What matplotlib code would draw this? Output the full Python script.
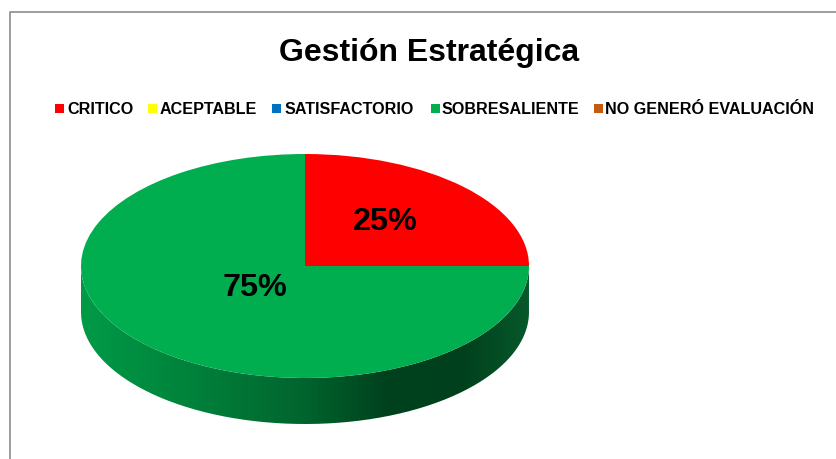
import numpy as np
import matplotlib
matplotlib.use('Agg')
import matplotlib.pyplot as plt
from matplotlib.colors import LinearSegmentedColormap
from matplotlib.lines import Line2D
from matplotlib.patches import PathPatch, Rectangle
from matplotlib.path import Path

plt.rcParams['font.family'] = ['Liberation Sans', 'DejaVu Sans']

categories = ['CRITICO', 'ACEPTABLE', 'SATISFACTORIO', 'SOBRESALIENTE', 'NO GENERÓ EVALUACIÓN']
values = [25, 0, 0, 75, 0]
colors = ['#FF0000', '#FFFF00', '#0070C0', '#00AE4F', '#C55A11']

W, H = 837, 459
fig = plt.figure(figsize=(W / 100, H / 100), dpi=100, facecolor='white')

# outer chart frame, runs off the right and bottom of the picture
fig.add_artist(Line2D([9.5 / W, 9.5 / W, 1], [0, 1 - 11.5 / H, 1 - 11.5 / H],
                      color='#8c8c8c', lw=1.2))

# axes covers top ellipse plus the wall under it, ellipse comes from aspect auto
depth = 46 / 112
ax = fig.add_axes([81 / W, 1 - 424 / H, 448 / W, 270 / H])
wedges, _ = ax.pie(values, colors=colors, startangle=90, counterclock=False, radius=1)
for w in wedges:
    w.set_edgecolor('none')
    w.set_clip_on(False)
    w.set_zorder(3)

# side wall of the pie
t = np.linspace(np.pi, 2 * np.pi, 200)
xs = np.concatenate([np.cos(t), np.cos(t[::-1])])
ys = np.concatenate([np.sin(t), np.sin(t[::-1]) - depth])
wall = PathPatch(Path(np.column_stack([xs, ys])), transform=ax.transData,
                 facecolor='none', edgecolor='none')
ax.add_patch(wall)
wall_cmap = LinearSegmentedColormap.from_list('wall', [
    (0.0, '#009A47'), (0.27, '#007F3A'), (0.5, '#00642D'),
    (0.68, '#00421E'), (0.85, '#00401C'), (1.0, '#07582B')])
im = ax.imshow(np.linspace(0, 1, 448).reshape(1, -1), cmap=wall_cmap, vmin=0, vmax=1,
               extent=(-1, 1, -1 - depth, 0), aspect='auto', zorder=2)
im.set_clip_path(wall)

ax.set_aspect('auto')
ax.set_xlim(-1, 1)
ax.set_ylim(-1 - depth, 1)
ax.axis('off')
ax.patch.set_visible(False)

# percent labels, only for the slices that exist
label_pos = {0: (385, 222.5), 3: (255, 287.5)}
total = sum(values)
for i, v in enumerate(values):
    if v > 0:
        px, py = label_pos[i]
        fig.text(px / W, 1 - py / H, '%d%%' % round(100 * v / total), ha='center', va='center',
                 fontsize=23.3, fontweight='bold', color='black', zorder=5)

fig.text(429 / W, 1 - 53.5 / H, 'Gestión Estratégica', ha='center', va='center',
         fontsize=23, fontweight='bold', color='black')

# legend row
box_x = [55, 148, 272, 431, 594]
text_x = [67, 160, 285, 442, 605]
for name, c, bx, tx in zip(categories, colors, box_x, text_x):
    fig.add_artist(Rectangle((bx / W, 1 - 113 / H), 9 / W, 9 / H, transform=fig.transFigure,
                             facecolor=c, edgecolor='none'))
    fig.text(tx / W, 1 - 109.5 / H, name, ha='left', va='center',
             fontsize=11.6, fontweight='bold', color='black')

fig.savefig('out.png', dpi=100)
